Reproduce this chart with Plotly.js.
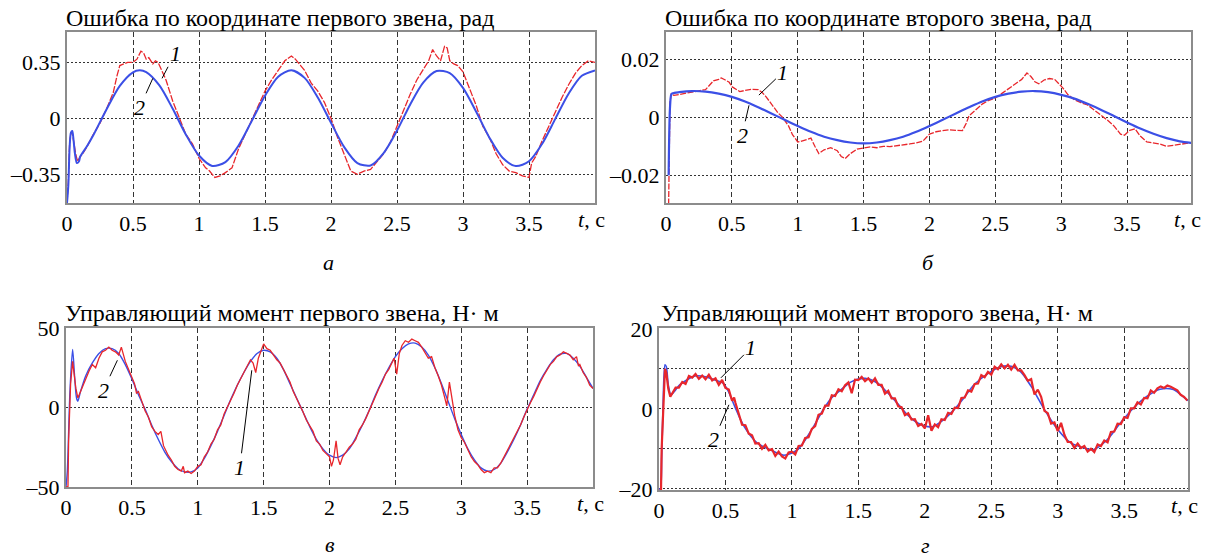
<!DOCTYPE html>
<html>
<head>
<meta charset="utf-8">
<script src="https://cdn.plot.ly/plotly-3.0.1.min.js"></script>
<style>html,body{margin:0;padding:0;background:#fff;}#chart{width:1209px;height:559px;}</style>
</head>
<body>
<div id="chart"></div>
<script>
// ---------- Data ----------
const titles = [
  "Ошибка по координате первого звена, рад",
  "Ошибка по координате второго звена, рад",
  "Управляющий момент первого звена, Н· м",
  "Управляющий момент второго звена, Н· м"
];
const panelLetters = ["а", "б", "в", "г"];
const xTickVals = [0, 0.5, 1, 1.5, 2, 2.5, 3, 3.5];
const xTickText = ["0", "0.5", "1", "1.5", "2", "2.5", "3", "3.5"];
const yTickValsA = [-0.35, 0, 0.35];
const yTickTextA = ["–0.35", "0", "0.35"];
const yTickValsB = [-0.02, 0, 0.02];
const yTickTextB = ["–0.02", "0", "0.02"];
const yTickValsC = [-50, 0, 50];
const yTickTextC = ["–50", "0", "50"];
const yTickValsD = [-20, -10, 0, 10, 20];
const yTickTextD = ["–20", "", "0", "", "20"];

// Panel а: error of link 1 (rad)
const tA_blue = [0,0.01,0.02,0.03,0.04,0.05,0.06,0.075,0.09,0.1,0.15,0.2,0.3,0.4,0.5,0.55,0.6,0.7,0.8,0.9,1.0,1.1,1.2,1.3,1.4,1.5,1.6,1.7,1.8,1.9,2.0,2.1,2.2,2.3,2.4,2.5,2.6,2.7,2.8,2.9,3.0,3.1,3.2,3.3,3.4,3.5,3.6,3.7,3.8,3.9,4.0];
const yA_blue = [-0.53,-0.42,-0.18,-0.09,-0.08,-0.14,-0.22,-0.28,-0.27,-0.24,-0.177,-0.105,0.057,0.203,0.288,0.300,0.289,0.206,0.061,-0.101,-0.233,-0.298,-0.274,-0.170,-0.016,0.141,0.260,0.300,0.253,0.130,-0.028,-0.180,-0.280,-0.295,-0.216,-0.077,0.087,0.225,0.296,0.283,0.190,0.041,-0.121,-0.247,-0.299,-0.269,-0.159,-0.002,0.154,0.266,0.300];
const tA_red = [0,0.01,0.02,0.03,0.04,0.05,0.065,0.08,0.1,0.12,0.15,0.2,0.25,0.3,0.35,0.38,0.4,0.43,0.46,0.5,0.53,0.56,0.58,0.6,0.62,0.65,0.67,0.69,0.72,0.75,0.8,0.85,0.9,0.95,1.0,1.05,1.08,1.12,1.16,1.2,1.25,1.3,1.35,1.4,1.45,1.5,1.55,1.6,1.65,1.7,1.73,1.77,1.8,1.85,1.9,1.95,2.0,2.05,2.1,2.15,2.2,2.25,2.3,2.35,2.4,2.45,2.5,2.55,2.6,2.65,2.7,2.74,2.77,2.8,2.83,2.86,2.88,2.9,2.93,2.96,3.0,3.05,3.1,3.15,3.2,3.25,3.3,3.35,3.4,3.45,3.5,3.52,3.55,3.6,3.65,3.7,3.75,3.8,3.85,3.9,3.95,4.0];
const yA_red = [-0.53,-0.40,-0.15,-0.09,-0.09,-0.15,-0.22,-0.27,-0.24,-0.22,-0.18,-0.10,-0.03,0.06,0.16,0.27,0.33,0.34,0.35,0.35,0.37,0.42,0.41,0.37,0.38,0.34,0.36,0.35,0.30,0.24,0.11,0.01,-0.10,-0.16,-0.25,-0.31,-0.33,-0.37,-0.36,-0.34,-0.31,-0.19,-0.10,-0.02,0.07,0.17,0.24,0.30,0.36,0.39,0.37,0.33,0.30,0.22,0.17,0.10,0.0,-0.12,-0.22,-0.33,-0.35,-0.33,-0.32,-0.27,-0.22,-0.15,-0.05,0.06,0.15,0.24,0.31,0.36,0.43,0.39,0.36,0.45,0.44,0.36,0.34,0.33,0.29,0.19,0.08,-0.05,-0.12,-0.22,-0.29,-0.33,-0.34,-0.36,-0.37,-0.28,-0.24,-0.14,-0.05,0.05,0.13,0.21,0.28,0.33,0.36,0.35];

// Panel б: error of link 2 (rad)
const tB_blue = [0.02,0.03,0.04,0.05,0.1,0.2,0.3,0.4,0.5,0.6,0.7,0.8,0.9,1.0,1.1,1.2,1.3,1.4,1.5,1.6,1.7,1.8,1.9,2.0,2.1,2.2,2.3,2.4,2.5,2.6,2.7,2.8,2.9,3.0,3.1,3.2,3.3,3.4,3.5,3.6,3.7,3.8,3.9,4.0];
const yB_blue = [-0.02,0.003,0.0078,0.0082,0.0086,0.0090,0.0088,0.0081,0.0070,0.0054,0.0034,0.0013,-0.0009,-0.0030,-0.0050,-0.0067,-0.0079,-0.0087,-0.0090,-0.0087,-0.0079,-0.0067,-0.0050,-0.0030,-0.0009,0.0013,0.0034,0.0054,0.0070,0.0081,0.0088,0.0090,0.0086,0.0077,0.0064,0.0046,0.0026,0.0004,-0.0018,-0.0039,-0.0057,-0.0072,-0.0083,-0.0089];
const tB_red = [0.02,0.025,0.03,0.04,0.06,0.1,0.15,0.2,0.25,0.3,0.33,0.36,0.4,0.42,0.45,0.48,0.5,0.53,0.56,0.6,0.65,0.7,0.73,0.76,0.8,0.85,0.88,0.9,0.93,0.96,1.0,1.03,1.07,1.1,1.13,1.16,1.2,1.25,1.3,1.33,1.36,1.4,1.45,1.5,1.55,1.6,1.65,1.7,1.75,1.8,1.85,1.9,1.95,2.0,2.05,2.1,2.15,2.2,2.25,2.28,2.3,2.35,2.4,2.45,2.5,2.55,2.6,2.65,2.7,2.74,2.77,2.8,2.83,2.87,2.91,2.95,2.98,3.01,3.05,3.1,3.15,3.2,3.25,3.3,3.35,3.4,3.45,3.48,3.52,3.56,3.6,3.65,3.7,3.75,3.8,3.85,3.9,3.95,4.0];
const yB_red = [-0.03,-0.01,0.005,0.008,0.0075,0.0078,0.0082,0.0085,0.009,0.0095,0.011,0.0125,0.013,0.0135,0.0128,0.012,0.0105,0.0095,0.0088,0.0092,0.0096,0.0095,0.0085,0.007,0.0045,0.0015,0.0002,-0.001,-0.003,-0.006,-0.0085,-0.0082,-0.0075,-0.0072,-0.010,-0.0125,-0.0112,-0.0105,-0.0115,-0.0135,-0.0142,-0.0125,-0.011,-0.0105,-0.0102,-0.0105,-0.0100,-0.0101,-0.0098,-0.0097,-0.0092,-0.0088,-0.0082,-0.0058,-0.005,-0.0046,-0.0043,-0.0045,-0.0046,-0.002,0.0005,0.0025,0.0045,0.0058,0.0066,0.0082,0.0098,0.0115,0.013,0.0152,0.014,0.0122,0.0115,0.0128,0.0133,0.0130,0.0115,0.0102,0.0078,0.006,0.005,0.0042,0.0025,0.0008,-0.001,-0.003,-0.0058,-0.0062,-0.0045,-0.004,-0.0065,-0.0085,-0.0088,-0.0092,-0.0100,-0.0096,-0.0092,-0.0090,-0.0088];

// Panel в: control torque of link 1 (N·m)
const tC_blue = [0,0.01,0.03,0.05,0.065,0.08,0.09,0.11,0.15,0.2,0.25,0.3,0.35,0.4,0.45,0.5,0.55,0.6,0.65,0.7,0.75,0.8,0.85,0.9,0.95,1.0,1.05,1.1,1.15,1.2,1.25,1.3,1.35,1.4,1.45,1.5,1.55,1.6,1.65,1.7,1.75,1.8,1.85,1.9,1.95,2.0,2.05,2.1,2.15,2.2,2.25,2.3,2.35,2.4,2.45,2.5,2.55,2.6,2.65,2.7,2.75,2.8,2.85,2.9,2.95,3.0,3.05,3.1,3.15,3.2,3.25,3.3,3.35,3.4,3.45,3.5,3.55,3.6,3.65,3.7,3.75,3.8,3.85,3.9,3.95,4.0];
const yC_blue = [-50,-40,10,36.5,20,6,4,10,20,28,34,37,37,34,27,18,8,-1,-11,-20,-28,-34,-38.5,-40.5,-40.5,-38,-32,-24,-15,-5,5,14,22,29,34,36,35,31,24,15,6,-3,-12,-20,-26,-30,-31.5,-30,-26,-19,-11,-2,8,17,25,32,37,40,40.5,38,33,25,15,4,-7,-17,-26,-33,-38,-40,-39,-35,-28,-20,-11,-1,8,17,24,30,33.5,34,31,26,19,12];
const tC_red = [0,0.015,0.02,0.035,0.05,0.06,0.075,0.09,0.1,0.125,0.15,0.175,0.2,0.225,0.25,0.275,0.3,0.325,0.35,0.375,0.4,0.42,0.45,0.475,0.5,0.52,0.535,0.55,0.575,0.6,0.625,0.65,0.675,0.7,0.72,0.74,0.775,0.8,0.825,0.85,0.875,0.89,0.9,0.925,0.95,0.975,1.0,1.025,1.05,1.075,1.1,1.125,1.15,1.175,1.2,1.225,1.25,1.275,1.3,1.325,1.35,1.375,1.4,1.42,1.44,1.46,1.48,1.5,1.525,1.55,1.575,1.6,1.625,1.65,1.675,1.7,1.725,1.75,1.775,1.8,1.825,1.85,1.875,1.9,1.925,1.95,1.975,2.0,2.015,2.03,2.05,2.065,2.08,2.1,2.125,2.15,2.175,2.2,2.225,2.25,2.275,2.3,2.325,2.35,2.375,2.4,2.425,2.45,2.475,2.49,2.51,2.53,2.55,2.575,2.6,2.625,2.65,2.675,2.7,2.725,2.75,2.775,2.8,2.825,2.85,2.875,2.89,2.91,2.93,2.95,2.975,3.0,3.025,3.05,3.075,3.1,3.125,3.15,3.175,3.2,3.225,3.25,3.275,3.3,3.325,3.35,3.375,3.4,3.425,3.45,3.475,3.5,3.525,3.55,3.575,3.6,3.625,3.65,3.675,3.7,3.725,3.75,3.775,3.8,3.825,3.85,3.875,3.89,3.9,3.925,3.95,3.975,4.0];
const yC_red = [-50,-50,-20,15,29,22,12,6,8,14,19,23,27,25,31,35,36,38,36,35,33,38,29,24,19,15,9,10,4,-2,-6,-12,-15,-17,-15,-24,-30,-33,-37,-39,-40,-37,-41,-40,-41.5,-40,-37,-36,-31,-28,-23,-20,-14,-11,-4,0,5,9,14,18,23,26,30,28,22,31,36,40,37,36,33,30,28,24,19,16,10,6,2,-3,-8,-12,-15,-21,-23,-27,-29,-31,-37,-33,-21,-32,-36,-31,-28,-25,-23,-20,-14,-11,-7,-2,3,8,12,16,21,24,29,31,21,34,39,42,41,43,42,41,38,34,31,32,25,20,14,6,1,16,5,-5,-14,-19,-22,-27,-31,-34,-36,-39,-41,-40,-41,-38,-38,-35,-31,-27,-24,-19,-15,-11,-6,-1,3,7,12,16,20,24,27,29,32,33,35,34,33,30,32,26,27,22,19,14,12];

// Panel г: control torque of link 2 (N·m)
const tD_blue = [0,0.01,0.02,0.03,0.045,0.055,0.07,0.09,0.12,0.15,0.2,0.27,0.35,0.42,0.48,0.52,0.57,0.64,0.74,0.84,0.94,1.04,1.14,1.24,1.3,1.37,1.45,1.55,1.64,1.72,1.79,1.87,1.95,2.05,2.13,2.22,2.3,2.37,2.48,2.57,2.65,2.72,2.8,2.9,3.0,3.1,3.2,3.27,3.37,3.47,3.57,3.67,3.77,3.87,3.97,4.0];
const yD_blue = [-20,-20,-12,0,11,10.5,6,3.5,4.5,5.8,7,8.2,8,7.2,6.5,4.5,0.6,-4.4,-8.6,-10.3,-11.6,-10.3,-5.7,0,2.8,4.8,6.8,7.6,6.5,4,1.5,-1.5,-3.6,-4.5,-3,-0.2,3,6,8.9,10.5,10.6,9.3,5.6,-0.2,-5.2,-8.6,-9.8,-10.2,-7.8,-3.6,0.2,3.1,4.9,4.8,2.3,1.8];
const tD_red = [0,0.015,0.02,0.035,0.045,0.055,0.07,0.085,0.1,0.125,0.15,0.175,0.2,0.225,0.25,0.275,0.3,0.325,0.35,0.375,0.4,0.425,0.45,0.475,0.5,0.525,0.55,0.565,0.575,0.6,0.625,0.65,0.675,0.7,0.725,0.75,0.775,0.8,0.825,0.85,0.875,0.9,0.925,0.95,0.975,1.0,1.025,1.05,1.075,1.1,1.125,1.15,1.175,1.2,1.225,1.25,1.275,1.3,1.325,1.35,1.375,1.4,1.425,1.45,1.475,1.5,1.525,1.55,1.575,1.6,1.625,1.65,1.675,1.7,1.725,1.75,1.775,1.8,1.825,1.85,1.875,1.9,1.925,1.95,1.975,2.0,2.025,2.05,2.075,2.1,2.125,2.15,2.175,2.2,2.225,2.25,2.275,2.3,2.325,2.35,2.375,2.4,2.425,2.45,2.475,2.5,2.525,2.55,2.575,2.6,2.625,2.65,2.675,2.7,2.725,2.75,2.775,2.8,2.825,2.85,2.875,2.9,2.925,2.95,2.975,3.0,3.025,3.05,3.075,3.1,3.125,3.15,3.175,3.2,3.225,3.25,3.275,3.3,3.325,3.35,3.375,3.4,3.425,3.45,3.475,3.5,3.525,3.55,3.575,3.6,3.625,3.65,3.675,3.7,3.725,3.75,3.775,3.8,3.825,3.85,3.875,3.9,3.925,3.95,3.975];
const yD_red = [-20.5,-20.5,-10,5,10,9,5,3,3.8,5.3,5.3,6.7,6.2,8.2,7.8,8.7,7.5,8.3,7.4,8.5,7.1,7.6,6.0,7.2,5.2,4.8,2.0,2.8,1.5,-1.2,-4.0,-4.1,-6.2,-6.6,-8.7,-8.6,-10.0,-9.0,-10.4,-10.1,-11.8,-10.7,-11.9,-12.4,-10.9,-10.7,-11.4,-9.3,-9.2,-7.3,-7.1,-5.0,-4.3,-1.5,-1.2,0.8,0.8,3.4,3.2,4.9,4.4,5.9,6.6,3.9,7.3,7.2,8.0,6.9,7.6,6.5,7.6,6.0,6.0,3.8,4.5,2.6,2.6,0.6,0.4,-1.6,-1.1,-2.7,-2.6,-4.3,-3.8,-4.9,-1.6,-5.5,-3.9,-4.6,-2.6,-2.8,-1.0,-1.3,0.3,0.2,2.7,2.8,4.6,4.3,6.2,6.3,8.4,7.9,9.2,8.5,10.5,9.9,11.1,10.1,11.0,9.8,11.0,9.6,9.6,8.4,7.0,7.4,3.6,4.8,3.0,-0.5,-1.1,-3.7,-3.4,-5.6,-3.5,-6.5,-8.3,-8.3,-9.8,-8.7,-9.8,-9.3,-10.7,-10.0,-10.8,-8.9,-9.3,-7.9,-8.4,-5.8,-5.7,-3.7,-3.8,-2.1,-2.3,0.1,0.1,1.6,1.1,2.7,2.6,4.6,4.0,5.1,5.6,5.2,5.8,5.5,5.0,4.6,3.5,3.0,2.1];

// ---------- Styling ----------
const SERIF = "Liberation Serif";
const RED = "#e8262b";
const BLUE = "#3b4fe6";

function lineTrace(x, y, xa, ya, color, width, dash, shape) {
  return {x: x, y: y, xaxis: xa, yaxis: ya, type: "scatter", mode: "lines",
          line: {color: color, width: width, dash: dash || "solid", shape: shape || "linear", smoothing: 0.8},
          hoverinfo: "skip"};
}

const traces = [
  lineTrace(tA_red, yA_red, "x", "y", RED, 1.3, "7px,1.5px"),
  lineTrace(tA_blue, yA_blue, "x", "y", BLUE, 2, "solid", "spline"),
  lineTrace(tB_red, yB_red, "x2", "y2", RED, 1.3, "6px,1.5px"),
  lineTrace(tB_blue, yB_blue, "x2", "y2", BLUE, 2.2, "solid", "spline"),
  lineTrace(tC_blue, yC_blue, "x3", "y3", BLUE, 1.4, "solid", "spline"),
  lineTrace(tC_red, yC_red, "x3", "y3", RED, 1.3),
  lineTrace(tD_blue, yD_blue, "x4", "y4", BLUE, 1.6, "solid", "spline"),
  lineTrace(tD_red, yD_red, "x4", "y4", RED, 2.2)
];

function xAxis(domain, anchor, range) {
  return {domain: domain, anchor: anchor, range: range, tickmode: "array",
          tickvals: xTickVals, ticktext: xTickText, ticks: "", showline: true, mirror: true,
          linecolor: "#8c8c8c", linewidth: 2, showgrid: true, gridcolor: "#333",
          griddash: "5px,3px", gridwidth: 1, zeroline: false,
          tickfont: {family: SERIF, size: 22, color: "#000"}, ticklabelstandoff: 0};
}
function yAxis(domain, anchor, range, vals, text) {
  return {domain: domain, anchor: anchor, range: range, tickmode: "array",
          tickvals: vals, ticktext: text, ticks: "", showline: true, mirror: true,
          linecolor: "#8c8c8c", linewidth: 2, showgrid: true, gridcolor: "#333",
          griddash: "2px,2px", gridwidth: 1, zeroline: false,
          tickfont: {family: SERIF, size: 22, color: "#000"}, ticklabelstandoff: 0};
}

const W = 1209, H = 559;
const px = v => v / W;
const py = v => 1 - v / H;

const layout = {
  width: W, height: H, margin: {l: 0, r: 0, t: 0, b: 0},
  font: {family: SERIF, color: "#000"},
  paper_bgcolor: "#fff", plot_bgcolor: "#fff", showlegend: false,
  xaxis: xAxis([px(67), px(595)], "y", [0, 4]),
  yaxis: yAxis([py(203), py(32)], "x", [-0.53, 0.54], yTickValsA, yTickTextA),
  xaxis2: xAxis([px(666), px(1191)], "y2", [0, 3.985]),
  yaxis2: yAxis([py(203), py(32)], "x2", [-0.0295, 0.0293], yTickValsB, yTickTextB),
  xaxis3: xAxis([px(66), px(593)], "y3", [0, 4]),
  yaxis3: yAxis([py(487), py(328)], "x3", [-50, 50], yTickValsC, yTickTextC),
  xaxis4: xAxis([px(659), px(1188)], "y4", [0, 3.98]),
  yaxis4: yAxis([py(490), py(328)], "x4", [-20.3, 20.2], yTickValsD, yTickTextD),
  annotations: []
};

const ann = layout.annotations;
// titles
const titlePos = [[64, 18], [663, 18], [63, 313], [659, 313]];
titles.forEach((t, i) => ann.push({text: t, xref: "paper", yref: "paper", x: px(titlePos[i][0]), y: py(titlePos[i][1]),
  xanchor: "left", yanchor: "middle", showarrow: false, font: {family: SERIF, size: 24, color: "#000"}}));
// panel letters
const letterPos = [[328, 262], [928, 262], [330, 544], [925, 545]];
panelLetters.forEach((t, i) => ann.push({text: "<i>" + t + "</i>", xref: "paper", yref: "paper", x: px(letterPos[i][0]), y: py(letterPos[i][1]),
  xanchor: "center", yanchor: "middle", showarrow: false, font: {family: SERIF, size: 22, color: "#000"}}));
// axis unit labels
const unitPos = [[591, 219], [1187, 219], [590, 503], [1184, 505]];
unitPos.forEach(p => ann.push({text: "<i>t</i>, с", xref: "paper", yref: "paper", x: px(p[0]), y: py(p[1]),
  xanchor: "center", yanchor: "middle", showarrow: false, font: {family: SERIF, size: 22, color: "#000"}}));
// curve markers 1 and 2 with leader lines
const markers = [
  {xr: "x", yr: "y", x: 0.72, y: 0.25, ax: 13, ay: -25, t: "1"},
  {xr: "x", yr: "y", x: 0.65, y: 0.25, ax: -13, ay: 29, t: "2"},
  {xr: "x2", yr: "y2", x: 0.705, y: 0.0076, ax: 24, ay: -23, t: "1"},
  {xr: "x2", yr: "y2", x: 0.63, y: 0.0041, ax: -7, ay: 30, t: "2"},
  {xr: "x3", yr: "y3", x: 0.39, y: 29.7, ax: -14, ay: 30, t: "2"},
  {xr: "x3", yr: "y3", x: 1.41, y: 23.4, ax: -12, ay: 97, t: "1"},
  {xr: "x4", yr: "y4", x: 0.466, y: 7.75, ax: 30, ay: -30, t: "1"},
  {xr: "x4", yr: "y4", x: 0.526, y: 1.0, ax: -15, ay: 35, t: "2"}
];
markers.forEach(m => ann.push({text: "<i>" + m.t + "</i>", xref: m.xr, yref: m.yr, x: m.x, y: m.y, ax: m.ax, ay: m.ay,
  showarrow: true, arrowhead: 0, arrowwidth: 1, arrowcolor: "#000", standoff: 0, startstandoff: 0,
  font: {family: SERIF, size: 22, color: "#000"}}));

Plotly.newPlot("chart", traces, layout, {staticPlot: true, displayModeBar: false});
</script>
</body>
</html>
